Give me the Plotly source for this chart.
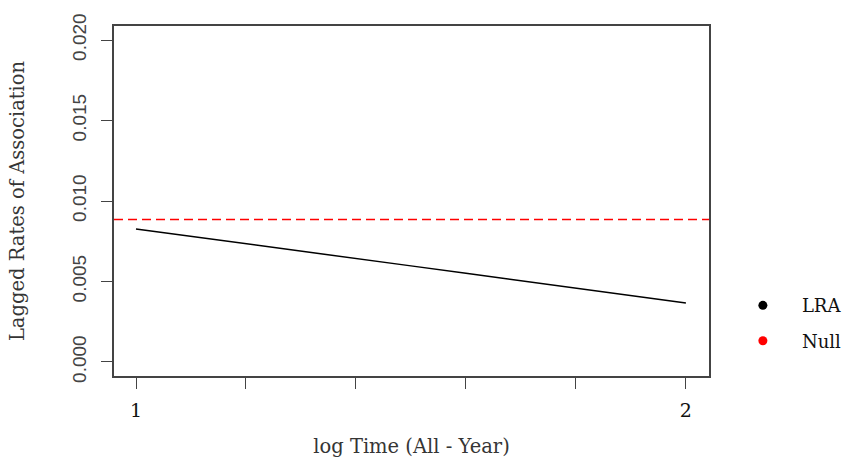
import plotly.graph_objects as go

# log time grid and lagged rates of association
log_time = [1.0, 1.1, 1.2, 1.3, 1.4, 1.5, 1.6, 1.7, 1.8, 1.9, 2.0]
lra_values = [0.00826, 0.00781, 0.00735, 0.00689, 0.00643, 0.00597,
              0.00551, 0.00505, 0.00459, 0.00413, 0.00366]
null_rate = 0.00885

y_ticks = [0.000, 0.005, 0.010, 0.015, 0.020]
y_tick_labels = ["0.000", "0.005", "0.010", "0.015", "0.020"]
x_ticks = [1.0, 1.2, 1.4, 1.6, 1.8, 2.0]
x_tick_labels = ["1", "", "", "", "", "2"]

serif = "DejaVu Serif"
sans = "Liberation Sans"

fig = go.Figure()
fig.add_trace(go.Scatter(x=log_time, y=lra_values, mode="lines",
                         line=dict(color="black", width=1.5),
                         showlegend=False, hoverinfo="skip"))
fig.add_hline(y=null_rate, line=dict(color="#ff0000", width=1.5, dash="9px,5px"))

# legend entries
fig.add_trace(go.Scatter(x=[None], y=[None], mode="markers", name="LRA",
                         marker=dict(color="black", size=9), legendgroup="a"))
fig.add_trace(go.Scatter(x=[None], y=[None], mode="markers", name="Null",
                         marker=dict(color="red", size=9), legendgroup="b"))

fig.update_layout(
    width=846, height=462,
    margin=dict(l=114, r=137, t=26, b=86, autoexpand=False),
    paper_bgcolor="white", plot_bgcolor="white",
    legend=dict(x=1.025, y=0.151, xanchor="left", yanchor="middle",
                font=dict(family=serif, size=18, color="#111"),
                tracegroupgap=9, itemwidth=68, bgcolor="rgba(0,0,0,0)"),
    xaxis=dict(range=[0.96, 2.042], tickvals=x_ticks, ticktext=x_tick_labels,
               ticks="outside", ticklen=11, tickcolor="#444", tickwidth=1.2,
               showline=True, mirror=True, linecolor="#444", linewidth=1.5,
               showgrid=False, zeroline=False, ticklabelstandoff=5,
               tickfont=dict(family=serif, size=19, color="#111"),
               title=dict(text="log Time (All - Year)", standoff=20,
                          font=dict(family=serif, size=19.5, color="#353535"))),
    yaxis=dict(range=[-0.00087, 0.02087], tickvals=y_ticks, ticktext=y_tick_labels,
               tickangle=-90,
               ticks="outside", ticklen=11, tickcolor="#444", tickwidth=1.2,
               showline=True, mirror=True, linecolor="#444", linewidth=1.5,
               showgrid=False, zeroline=False, ticklabelstandoff=8,
               tickfont=dict(family=sans, size=19, color="#444"),
               title=dict(text="Lagged Rates of Association", standoff=39,
                          font=dict(family=serif, size=19.5, color="#353535"))),
)

fig.write_html("out.html")
